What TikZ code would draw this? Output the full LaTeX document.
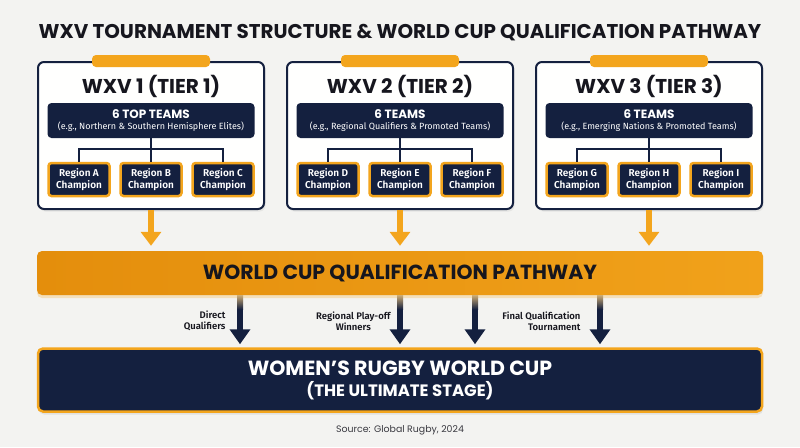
\documentclass[tikz,border=0pt]{standalone}
\usepackage{fontspec}
\setmainfont{Poppins}
\newfontfamily\labelfont{Fira Sans}[BoldFont={* SemiBold}]
\usetikzlibrary{arrows.meta,shadows,positioning,calc}

\definecolor{navy}{HTML}{14203F}
\definecolor{gold}{HTML}{F3A51D}
\definecolor{golddark}{HTML}{E48E0C}
\definecolor{paper}{HTML}{F3F3F1}
\definecolor{ink}{HTML}{16161E}

\tikzset{
  tierbox/.style={draw=navy, line width=2pt, fill=white!96!paper, rounded corners=6pt,
    minimum width=226pt, minimum height=147pt,
    drop shadow={opacity=0.12, shadow xshift=1.5pt, shadow yshift=-2.5pt}},
  tab/.style={fill=gold, rounded corners=4pt, minimum width=118pt, minimum height=12pt},
  tiertitle/.style={font=\bfseries\fontsize{20}{24}\selectfont, text=ink},
  teamsbox/.style={fill=navy, rounded corners=4pt, minimum width=207pt, minimum height=35pt,
    text=white, align=center, inner sep=0pt},
  regionbox/.style={fill=navy, draw=gold, line width=2.5pt, rounded corners=3pt,
    minimum width=61pt, minimum height=33pt, text=white, align=center, inner sep=0pt,
    font=\labelfont\bfseries\fontsize{10}{11.5}\selectfont},
  tree/.style={draw=navy, line width=2pt},
  goldarrow/.style={draw=gold, line width=6pt, -{Triangle[width=20pt,length=14pt]}},
  navyarrow/.style={draw=navy, line width=6pt, -{Triangle[width=20pt,length=15pt]}},
  fadetop/.style={top color=gold!55!white!80!navy, bottom color=navy},
  note/.style={font=\labelfont\bfseries\fontsize{9.5}{11}\selectfont, text=ink}
}

\newcommand{\teamstext}[2]{{\bfseries\fontsize{12}{14}\selectfont #1}\\[-1pt]%
  {\labelfont\fontsize{9}{10.5}\selectfont #2}}

\begin{document}
\begin{tikzpicture}[x=1pt,y=-1pt]
  \fill[paper] (0,0) rectangle (800,447);
  \useasboundingbox (0,0) rectangle (800,447);

  \node[font=\bfseries\fontsize{19.9}{24}\selectfont, text=ink] (title) at (400,33)
    {WXV TOURNAMENT STRUCTURE \& WORLD CUP QUALIFICATION PATHWAY};

  % tier 1
  \node[tierbox] (tier1) at (151,135.5) {};
  \node[tab] (tab1) at (151,61) {};
  \node[tiertitle] (head1) at (151,86) {WXV 1 (TIER 1)};
  \node[teamsbox] (teams1) at (151,120.5)
    {\teamstext{6 TOP TEAMS}{(e.g., Northern \& Southern Hemisphere Elites)}};
  \node[regionbox] (regA) at (79,179.5) {Region A\\Champion};
  \node[regionbox] (regB) at (151,179.5) {Region B\\Champion};
  \node[regionbox] (regC) at (223,179.5) {Region C\\Champion};
  \draw[tree] (teams1.south) -- ++(0,11) coordinate (j1);
  \draw[tree] (regA.north) |- (j1) -| (regC.north);
  \draw[tree] (j1) -- (regB.north);

  % tier 2
  \node[tierbox] (tier2) at (400,135.5) {};
  \node[tab] (tab2) at (400,61) {};
  \node[tiertitle] (head2) at (400,86) {WXV 2 (TIER 2)};
  \node[teamsbox] (teams2) at (400,120.5)
    {\teamstext{6 TEAMS}{(e.g., Regional Qualifiers \& Promoted Teams)}};
  \node[regionbox] (regD) at (328,179.5) {Region D\\Champion};
  \node[regionbox] (regE) at (400,179.5) {Region E\\Champion};
  \node[regionbox] (regF) at (472,179.5) {Region F\\Champion};
  \draw[tree] (teams2.south) -- ++(0,11) coordinate (j2);
  \draw[tree] (regD.north) |- (j2) -| (regF.north);
  \draw[tree] (j2) -- (regE.north);

  % tier 3
  \node[tierbox] (tier3) at (649,135.5) {};
  \node[tab] (tab3) at (649,61) {};
  \node[tiertitle] (head3) at (649,86) {WXV 3 (TIER 3)};
  \node[teamsbox] (teams3) at (649,120.5)
    {\teamstext{6 TEAMS}{(e.g., Emerging Nations \& Promoted Teams)}};
  \node[regionbox] (regG) at (577,179.5) {Region G\\Champion};
  \node[regionbox] (regH) at (649,179.5) {Region H\\Champion};
  \node[regionbox] (regI) at (721,179.5) {Region I\\Champion};
  \draw[tree] (teams3.south) -- ++(0,11) coordinate (j3);
  \draw[tree] (regG.north) |- (j3) -| (regI.north);
  \draw[tree] (j3) -- (regH.north);

  % qualification band
  \node[rounded corners=5pt, minimum width=726pt, minimum height=44pt,
    left color=golddark, middle color=gold, right color=gold!85!golddark,
    drop shadow={opacity=0.25, fill=gold, shadow xshift=0pt, shadow yshift=-3pt},
    font=\bfseries\fontsize{20.4}{24}\selectfont, text=ink] (band) at (400,273)
    {WORLD CUP QUALIFICATION PATHWAY};

  \draw[goldarrow, shorten >=5pt] (tier1.south) -- (tier1.south |- band.north);
  \draw[goldarrow, shorten >=5pt] (tier2.south) -- (tier2.south |- band.north);
  \draw[goldarrow, shorten >=5pt] (tier3.south) -- (tier3.south |- band.north);

  % world cup
  \node[fill=navy, draw=gold, line width=2.5pt, rounded corners=5pt,
    minimum width=724pt, minimum height=63pt, text=white, align=center,
    font=\bfseries\fontsize{16.5}{21}\selectfont,
    drop shadow={opacity=0.15, shadow xshift=1pt, shadow yshift=-3pt}] (wrc) at (400,380)
    {{\fontsize{20.5}{21}\selectfont WOMEN’S RUGBY WORLD CUP}\\
     (THE ULTIMATE STAGE)};

  \coordinate (d1) at (240,321);
  \coordinate (d2) at (400,321);
  \coordinate (d3) at (475,321);
  \coordinate (d4) at (600,321);
  \draw[navyarrow, shorten >=3pt] (band.south -| d1) -- (wrc.north -| d1);
  \draw[navyarrow, shorten >=3pt] (band.south -| d2) -- (wrc.north -| d2);
  \draw[navyarrow, shorten >=3pt] (band.south -| d3) -- (wrc.north -| d3);
  \draw[navyarrow, shorten >=3pt] (band.south -| d4) -- (wrc.north -| d4);
  % fade at the top of the shafts
  \shade[fadetop] ($(band.south -| d1)+(-3,0)$) rectangle ++(6,14);
  \shade[fadetop] ($(band.south -| d2)+(-3,0)$) rectangle ++(6,14);
  \shade[fadetop] ($(band.south -| d3)+(-3,0)$) rectangle ++(6,14);
  \shade[fadetop] ($(band.south -| d4)+(-3,0)$) rectangle ++(6,14);
  \node[note, align=right, left=11pt of d1] (lab1) {Direct\\Qualifiers};
  \node[note, align=center, left=6pt of d2] (lab2) {Regional Play-off\\Winners};
  \node[note, align=right, left=16pt of d4] (lab4) {Final Qualification\\Tournament};

  \node[font=\fontsize{9.4}{11}\selectfont, text=ink!85] (source) at (400,430)
    {Source: Global Rugby, 2024};
\end{tikzpicture}
\end{document}
